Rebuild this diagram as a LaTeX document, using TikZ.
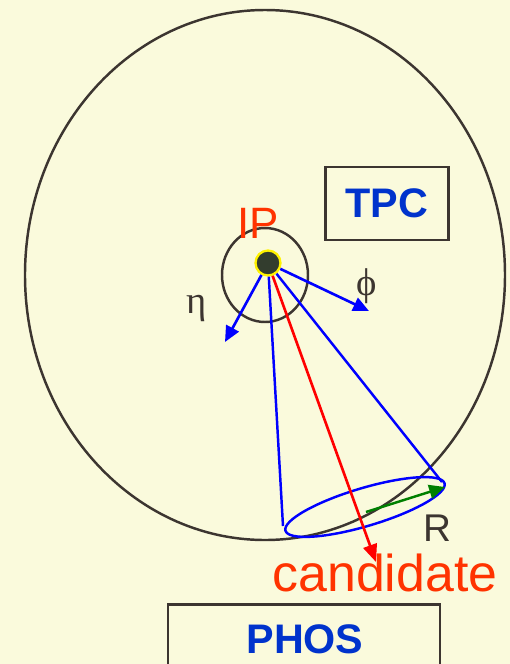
\documentclass[tikz,border=0pt]{standalone}
\usepackage{fontspec}
\setmainfont{Liberation Sans}
\newfontfamily\greekfont{Liberation Serif}
\usetikzlibrary{arrows.meta, positioning}

\definecolor{paper}{RGB}{250,250,220}
\definecolor{ink}{RGB}{60,53,48}
\definecolor{hot}{RGB}{255,51,0}
\definecolor{label blue}{RGB}{0,51,204}
\definecolor{dot}{RGB}{51,61,46}
\definecolor{vec green}{RGB}{0,128,0}

\begin{document}
\begin{tikzpicture}[
    x=0.02cm, y=-0.02cm,
    detector/.style={draw=ink, line width=1.5pt, rectangle, inner sep=0pt, font=\fontsize{23.5}{26}\selectfont\bfseries, text=label blue},
    ring/.style={draw=ink, line width=1.4pt},
    axis/.style={draw=blue, line width=1.5pt, -{Triangle[length=9pt, width=8pt]}},
    cone/.style={draw=blue, line width=1.4pt},
    big label/.style={font=\fontsize{29.5}{32}\selectfont, text=hot, anchor=base, inner sep=0pt},
    greek/.style={font=\greekfont\fontsize{22}{24}\selectfont, text=ink, anchor=base, inner sep=0pt}
]

% Background
\fill[paper] (0,0) rectangle (510,664);
\useasboundingbox (0,0) rectangle (510,664);

% Rings
\draw[ring] (265,275) ellipse [x radius=240, y radius=265];
\draw[ring] (265,275) ellipse [x radius=43, y radius=47];

% Nodes
\node[detector, minimum width=123*0.02cm, minimum height=73*0.02cm] (TPC) at (387,203.5) {TPC};
\node[detector, minimum width=272*0.02cm, minimum height=80*0.02cm, anchor=north] (PHOS) at (304,603) {};
\node[detector, anchor=base, draw=none] (PHOSlabel) at (305,653) {PHOS};

\node[draw=yellow, fill=dot, line width=1.3pt, circle, minimum size=25*0.02cm, inner sep=0pt] (ip) at (268,263) {};
\node[big label, font=\fontsize{25}{27}\selectfont] (IP) at (258,238) {IP};
\node[greek] (eta) at (197,313) {η};
\node[greek] (phi) at (367,295) {ϕ};
\node[big label, text=ink, font=\fontsize{22}{24}\selectfont, text depth=0pt] (R) at (437,541) {R};
\node[big label, text height=0.7em] (cand) at (385,591) {candidate};

% Arrow ends
\coordinate (etaTip) at (225,342);
\coordinate (phiTip) at (369,311);
\coordinate (coneL) at (283,526);
\coordinate (coneR) at (442,482);
\coordinate (cent) at (366,512);
\coordinate (rimTip) at (445,487);
\coordinate (candTip) at (376,562);

% Cone and its rim
\draw[cone] (ip) -- (coneL);
\draw[cone] (ip) -- (coneR);
\draw[cone, rotate around={16.6:(365,507)}] (365,507) ellipse [x radius=83, y radius=19];

% Axes
\draw[axis] (ip) -- (etaTip);
\draw[axis] (ip) -- (phiTip);
\draw[draw=vec green, line width=1.4pt, -{Triangle[length=9pt, width=8pt]}] (cent) -- (rimTip);
\draw[draw=red, line width=1.5pt, -{Triangle[length=10pt, width=8pt]}] (ip) -- (candTip);

\end{tikzpicture}
\end{document}
